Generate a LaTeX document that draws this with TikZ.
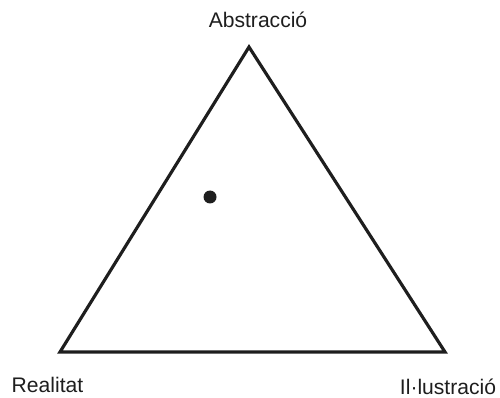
\documentclass[tikz,border=0pt]{standalone}
\usepackage{fontspec}
\setmainfont{Liberation Sans}
\usetikzlibrary{positioning}
\definecolor{TriInk}{HTML}{1E1E1E}
\tikzset{
  trilabel/.style={
    text=TriInk,
    inner sep=0pt,
    font=\fontsize{12}{14}\selectfont
  },
  triedge/.style={draw=TriInk,line width=1.8pt,line join=miter},
  tridot/.style={circle,fill=TriInk,minimum size=0.26cm,inner sep=0pt}
}

\begin{document}
\begin{tikzpicture}
        \useasboundingbox (0,0) rectangle (10,7.94);
        \coordinate (top) at (4.98,7.0);
        \coordinate (left) at (1.2,0.9);
        \coordinate (right) at (8.9,0.9);
        \node[trilabel] (abs) at (5.16,7.54) {Abstracció};
        \node[trilabel] (real) at (0.95,0.24) {Realitat};
        \node[trilabel] (ill) at (8.96,0.2) {Il·lustració};
        \draw[triedge] (top) -- (left) -- (right) -- cycle;
        \node[tridot] (pos) at (4.2,4.0) {};
      \end{tikzpicture}
\end{document}
